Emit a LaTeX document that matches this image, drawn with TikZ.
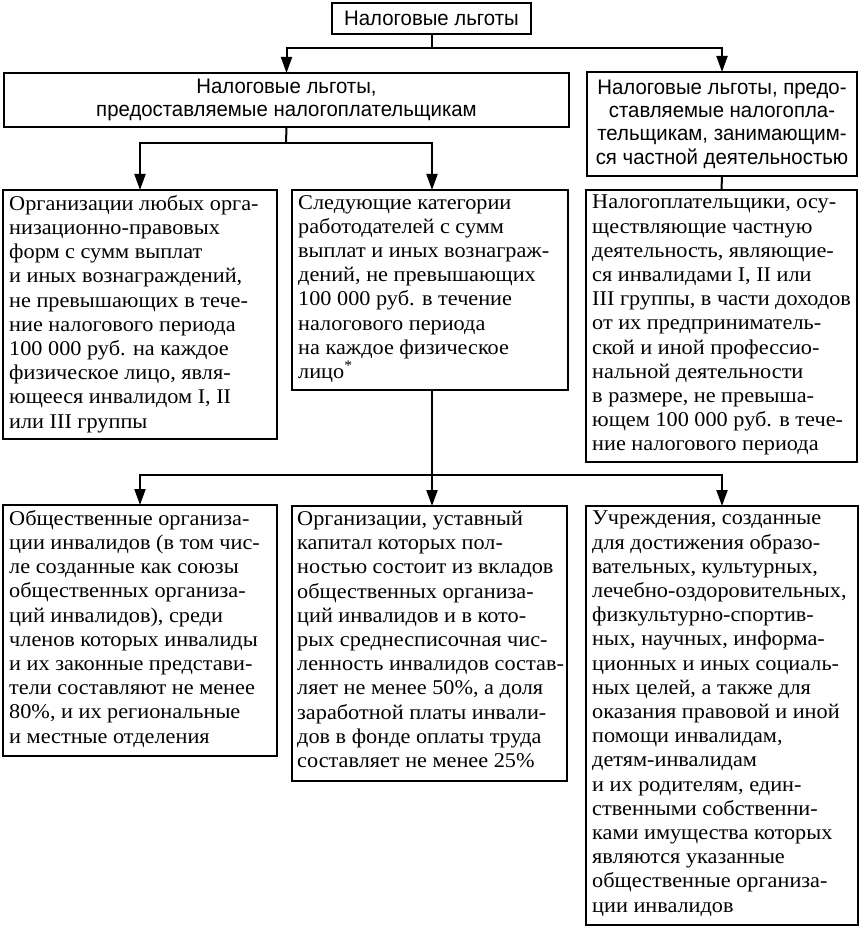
\documentclass[tikz,border=0pt]{standalone}
\usepackage{fontspec}
\setmainfont{Liberation Serif}
\newfontfamily\bodyfont[FakeStretch=1.06]{Liberation Serif}
\newfontfamily\headfont[FakeStretch=0.97]{Liberation Sans}
\usetikzlibrary{arrows.meta}
\begin{document}
\begin{tikzpicture}[x=1pt,y=-1pt,
  box/.style={draw,line width=2pt,inner sep=0pt,outer sep=0pt},
  bodytext/.style={anchor=north west,inner sep=0pt,align=left,font=\bodyfont\fontsize{21}{24.2}\selectfont},
  headtext/.style={box,align=center,font=\headfont\fontsize{21}{23.4}\selectfont},
  conn/.style={line width=2pt},
  arr/.style={conn,-{Triangle[length=16pt,width=11pt]}}
]
\useasboundingbox (0,0) rectangle (862,928);
% headings
\node[headtext,minimum width=199pt,minimum height=31pt] (T) at (431.5,18.5) {Налоговые льготы};
\node[headtext,minimum width=565pt,minimum height=54pt] (B2) at (286.5,100) {Налоговые льготы,\\предоставляемые налогоплательщикам};
\node[headtext,minimum width=270pt,minimum height=104pt] (B3) at (722,124) {Налоговые льготы, предо-\\ставляемые налогопла-\\тельщикам, занимающим-\\ся частной деятельностью};
% boxes
\node[box,minimum width=274pt,minimum height=249pt] (B4) at (140,314.5) {};
\node[box,minimum width=276pt,minimum height=200pt] (B5) at (430,290) {};
\node[box,minimum width=271pt,minimum height=272pt] (B6) at (721.5,326) {};
\node[box,minimum width=274pt,minimum height=251pt] (B7) at (140,630.5) {};
\node[box,minimum width=275pt,minimum height=275pt] (B8) at (429.5,643.5) {};
\node[box,minimum width=272pt,minimum height=419pt] (B9) at (722,715.5) {};
% texts
\node[bodytext] (B4t) at ([xshift=6pt,yshift=-5pt]B4.north west) {Организации любых орга-\\низационно-правовых\\форм с сумм выплат\\и иных вознаграждений,\\не превышающих в тече-\\ние налогового периода\\100 000 руб. на каждое\\физическое лицо, явля-\\ющееся инвалидом I, II\\или III группы};
\node[bodytext] (B5t) at ([xshift=6pt,yshift=-5pt]B5.north west) {Следующие категории\\работодателей с сумм\\выплат и иных вознаграж-\\дений, не превышающих\\100 000 руб. в течение\\налогового периода\\на каждое физическое\\лицо\textsuperscript{*}};
\node[bodytext] (B6t) at ([xshift=6pt,yshift=-5pt]B6.north west) {Налогоплательщики, осу-\\ществляющие частную\\деятельность, являющие-\\ся инвалидами I, II или\\III группы, в части доходов\\от их предприниматель-\\ской и иной профессио-\\нальной деятельности\\в размере, не превыша-\\ющем 100 000 руб. в тече-\\ние налогового периода};
\node[bodytext] (B7t) at ([xshift=6pt,yshift=-5pt]B7.north west) {Общественные организа-\\ции инвалидов (в том чис-\\ле созданные как союзы\\общественных организа-\\ций инвалидов), среди\\членов которых инвалиды\\и их законные представи-\\тели составляют не менее\\80\%, и их региональные\\и местные отделения};
\node[bodytext] (B8t) at ([xshift=5pt,yshift=-5pt]B8.north west) {Организации, уставный\\капитал которых пол-\\ностью состоит из вкладов\\общественных организа-\\ций инвалидов и в кото-\\рых среднесписочная чис-\\ленность инвалидов состав-\\ляет не менее 50\%, а доля\\заработной платы инвали-\\дов в фонде оплаты труда\\составляет не менее 25\%};
\node[bodytext] (B9t) at ([xshift=6pt,yshift=-5pt]B9.north west) {Учреждения, созданные\\для достижения образо-\\вательных, культурных,\\лечебно-оздоровительных,\\физкультурно-спортив-\\ных, научных, информа-\\ционных и иных социаль-\\ных целей, а также для\\оказания правовой и иной\\помощи инвалидам,\\детям-инвалидам\\и их родителям, един-\\ственными собственни-\\ками имущества которых\\являются указанные\\общественные организа-\\ции инвалидов};
% connectors
\coordinate (j1) at (431.5,48);
\coordinate (j2) at (286,143);
\coordinate (j3) at (432,475);
\draw[conn] (T.south) -- (j1);
\draw[arr] (j1) -| (B2.north);
\draw[arr] (j1) -| (B3.north);
\draw[conn] (B2.south) -- (j2);
\draw[arr] (j2) -| (B4.north);
\draw[arr] (j2) -| (B5.north -| j3);
\draw[conn] (B3.south) -- (B6.north);
\draw[conn] (B5.south -| j3) -- (j3);
\draw[arr] (j3) -| (B7.north);
\draw[arr] (j3) -- (B8.north -| j3);
\draw[arr] (j3) -| (B9.north);
\end{tikzpicture}
\end{document}
